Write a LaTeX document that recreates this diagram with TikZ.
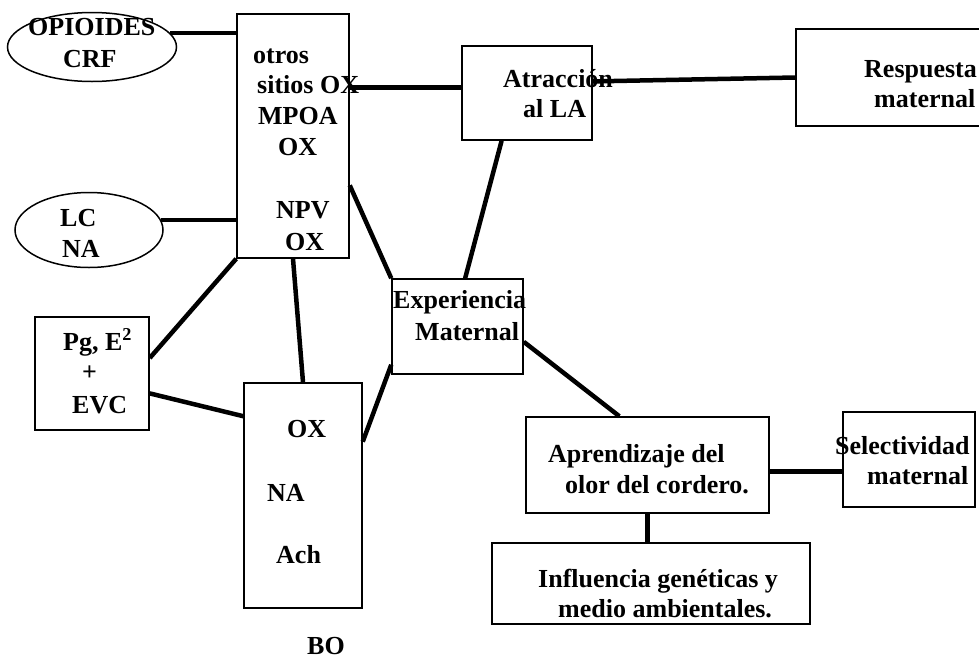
\documentclass[tikz,border=0pt]{standalone}
\usepackage{fontspec}
\setmainfont{Liberation Serif}
\usetikzlibrary{shapes.geometric}

\begin{document}
\begin{tikzpicture}[
		x=1pt, y=-1pt,
		caja/.style={ draw, line width=1.5pt, inner sep=0pt, },
		elip/.style={ draw, ellipse, line width=1.5pt, inner sep=0pt, },
		lin/.style={ line width=4.5pt, },
		txt/.style={ anchor=base west, inner sep=0pt, font=\fontsize{26}{31}\selectfont\bfseries, },
		]
		\useasboundingbox (0,0) rectangle (979,659);
		\clip (0,0) rectangle (979,659);
		
		\node[elip, minimum width=169pt, minimum height=69pt](opi) at (92,47){};
		\node[txt](opiA) at (28,35){OPIOIDES};
		\node[txt](opiB) at (63,67){CRF};
		
		\node[elip, minimum width=148pt, minimum height=75pt](lc) at (89,230){};
		\node[txt](lcA) at (60,226){LC};
		\node[txt](lcB) at (62,257){NA};
		
		\node[caja, minimum width=112pt, minimum height=244pt](hip) at (293,136){};
		\node[txt](hipA) at (253,63){otros};
		\node[txt](hipB) at (257,93){sitios OX};
		\node[txt](hipC) at (258,124){MPOA};
		\node[txt](hipD) at (278,155){OX};
		\node[txt](hipE) at (276,218){NPV};
		\node[txt](hipF) at (285,250){OX};
		
		\node[caja, minimum width=130pt, minimum height=94pt](atr) at (527,93){};
		\node[txt](atrA) at (503,87){Atracción};
		\node[txt](atrB) at (523,117){al LA};
		
		\node[caja, minimum width=204pt, minimum height=97pt](resp) at (898,77.5){};
		\node[txt](respA) at (864,77){Respuesta};
		\node[txt](respB) at (874,107){maternal};
		
		\node[caja, minimum width=131pt, minimum height=95pt](exp) at (457.5,326.5){};
		\node[txt](expA) at (393,308){Experiencia};
		\node[txt](expB) at (415,340){Maternal};
		
		\node[caja, minimum width=114pt, minimum height=113pt](pg) at (92,373.5){};
		\node[txt](pgA) at (63,350){Pg, E\textsuperscript{2}};
		\node[txt](pgB) at (82,380){+};
		\node[txt](pgC) at (72,413){EVC};
		
		\node[caja, minimum width=118pt, minimum height=225pt](ox) at (303,495.5){};
		\node[txt](oxA) at (287,437){OX};
		\node[txt](oxB) at (267,501){NA};
		\node[txt](oxC) at (276,563){Ach};
		\node[txt](bo) at (307,654){BO};
		
		\node[caja, minimum width=243pt, minimum height=96pt](apr) at (647.5,465){};
		\node[txt](aprA) at (548,462){Aprendizaje del};
		\node[txt](aprB) at (565,493){olor del cordero.};
		
		\node[caja, minimum width=132pt, minimum height=95pt](sel) at (909,459.5){};
		\node[txt](selA) at (835,454){Selectividad};
		\node[txt](selB) at (867,484){maternal};
		
		\node[caja, minimum width=318pt, minimum height=81pt](inf) at (651,583.5){};
		\node[txt](infA) at (538,587){Influencia genéticas y};
		\node[txt](infB) at (558,617){medio ambientales.};
		
		% conexiones
		\draw[lin](opi.10)--(hip.west |- opi.10);
		\draw[lin](lc.8)--(hip.west |- lc.8);
		\draw[lin](hip.east |- atr.175)--(atr.175);
		\draw[lin](atr.10)--(resp.west);
		\draw[lin](atr.-118)--(exp.81);
		\draw[lin](hip.-41)--(exp.north west);
		\draw[lin](hip.south west)--(pg.15);
		\draw[lin](hip.south)--(ox.north);
		\draw[lin](pg.-19)--(ox.127);
		\draw[lin](ox.42)--(exp.-150);
		\draw[lin](exp.-13)--(apr.120);
		\draw[lin](apr.-3)--(sel.west |- apr.-3);
		\draw[lin](apr.south)--(apr.south |- inf.north);
	\end{tikzpicture}
\end{document}
